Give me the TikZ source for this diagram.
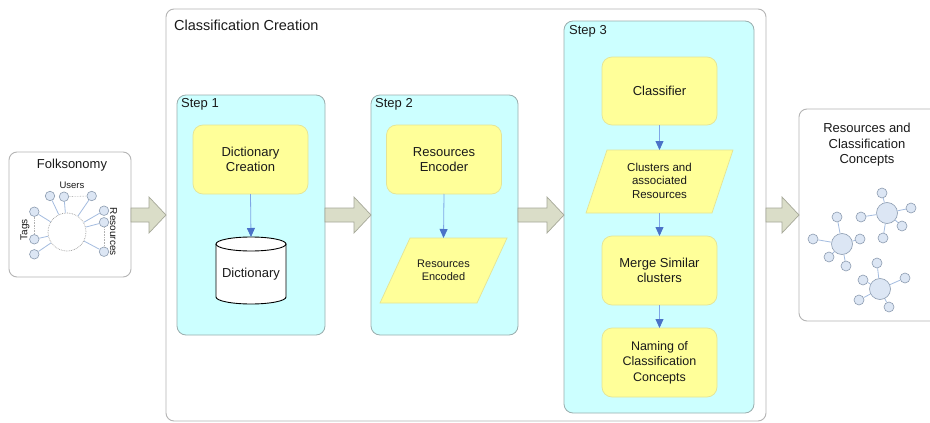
\documentclass[tikz,border=0pt]{standalone}
\usepackage{fontspec}
\setmainfont{Liberation Sans}
\usetikzlibrary{arrows.meta,calc}

\definecolor{boxgray}{HTML}{B4B4B4}
\definecolor{stepfill}{HTML}{CCFFFF}
\definecolor{stepline}{HTML}{9AAEAE}
\definecolor{procfill}{HTML}{FFFF99}
\definecolor{procline}{HTML}{E4E496}
\definecolor{bigfill}{HTML}{DADDC8}
\definecolor{bigline}{HTML}{A6A898}
\definecolor{flowline}{HTML}{7FA6E6}
\definecolor{flowhead}{HTML}{4A72C8}
\definecolor{dotfill}{HTML}{DCE6F4}
\definecolor{dotline}{HTML}{8C9CB0}
\definecolor{linkblue}{HTML}{A4BCE0}
\definecolor{txt}{HTML}{1A1A1A}

% block arrow between two boxes, centred on y = 215
\newcommand\blockarrow[2]{%
  \draw[bigarrow] (#1.east |- 0,208) -- ($(#2.west |- 0,208)+(-17,0)$)
    -- ($(#2.west |- 0,197)+(-17,0)$) -- (#2.west |- 0,215)
    -- ($(#2.west |- 0,233)+(-17,0)$) -- ($(#2.west |- 0,222)+(-17,0)$)
    -- (#1.east |- 0,222) -- cycle;}

\begin{document}
\begin{tikzpicture}[x=1pt,y=-1pt,
  every node/.style={text=txt},
  font=\fontsize{13}{15.5}\selectfont,
  outerbox/.style={draw=boxgray, fill=white, rounded corners=8pt, line width=0.9pt, outer sep=0pt, inner sep=0pt},
  stepbox/.style={draw=stepline, fill=stepfill, rounded corners=9pt, line width=0.8pt, outer sep=0pt, inner sep=0pt},
  steplabel/.style={anchor=west, inner sep=0pt},
  procbox/.style={draw=procline, fill=procfill, rounded corners=10pt, line width=0.7pt, outer sep=0pt,
    align=center, minimum width=115pt, minimum height=69pt, inner sep=2pt},
  paraframe/.style={draw=procline, fill=procfill, line width=0.7pt},
  ghost/.style={inner sep=0pt, outer sep=0pt, align=center},
  flow/.style={draw=flowline, line width=0.8pt, -{Triangle[width=8pt,length=9pt,color=flowhead]}},
  bigarrow/.style={draw=bigline, fill=bigfill, line width=0.7pt, line join=miter},
  dot/.style={circle, draw=dotline, fill=dotfill, line width=0.6pt, minimum size=9.5pt, inner sep=0pt},
  hubdot/.style={circle, draw=dotline, fill=dotfill, line width=0.6pt, minimum size=21pt, inner sep=0pt},
  satdot/.style={circle, draw=dotline, fill=dotfill, line width=0.6pt, minimum size=10pt, inner sep=0pt},
  link/.style={draw=linkblue, line width=0.8pt},
  gap/.style={draw=gray!60, densely dotted, line width=0.6pt},
  small/.style={font=\fontsize{10}{12}\selectfont, inner sep=0pt}]

\clip (0,0) rectangle (930,423);
\fill[white] (0,0) rectangle (930,423);

% ---- outer boxes ----
\node[outerbox, minimum width=122pt, minimum height=125pt] (folk) at (70,214.5) {};
\node[outerbox, minimum width=600pt, minimum height=412pt] (main) at (466,215) {};
\node[outerbox, minimum width=146pt, minimum height=212pt] (res) at (872,215) {};

\node[anchor=west, inner sep=0pt, font=\fontsize{14.5}{17}\selectfont] (cctitle) at (174,25) {Classification Creation};
\node[inner sep=0pt] (folktitle) at (72,165) {Folksonomy};
\node[inner sep=0pt, align=center] (restitle) at (867,145) {Resources and\\Classification\\Concepts};

% ---- step containers ----
\node[stepbox, minimum width=148pt, minimum height=240pt] (step1) at (251,215) {};
\node[stepbox, minimum width=147pt, minimum height=240pt] (step2) at (444.5,215) {};
\node[stepbox, minimum width=190pt, minimum height=392pt] (step3) at (659,217) {};
\node[steplabel] (s1lab) at (181,104) {Step 1};
\node[steplabel] (s2lab) at (375,104) {Step 2};
\node[steplabel] (s3lab) at (569,31) {Step 3};

% ---- step 1 ----
\node[procbox] (dictc) at (250.5,159.5) {Dictionary\\Creation};
\node[ghost, minimum width=70pt, minimum height=67pt] (dict) at (251,270.5) {};
\draw[fill=white, line width=0.9pt]
  ($(dict.north west)+(0,7)$) -- ($(dict.south west)+(0,-7)$)
  arc[start angle=180, end angle=0, x radius=35, y radius=7]
  -- ($(dict.north east)+(0,7)$);
\draw[fill=white, line width=0.9pt] ($(dict.north)+(0,7)$) ellipse[x radius=35, y radius=7];
\node[inner sep=0pt] (dictlab) at (251,274) {Dictionary};
\draw[flow] (dictc.south) -- (dict.north);

% ---- step 2 ----
\node[procbox] (encoder) at (444,159.5) {Resources\\Encoder};
\node[ghost, minimum width=127pt, minimum height=65pt] (encoded) at (443.5,270.5) {};
\draw[paraframe] ($(encoded.north west)+(30,0)$) -- (encoded.north east)
  -- ($(encoded.south east)+(-30,0)$) -- (encoded.south west) -- cycle;
\node[ghost, font=\fontsize{11}{13}\selectfont] (encodedlab) at (443.5,270) {Resources\\Encoded};
\draw[flow] (encoder.south) -- (encoded.north);

% ---- step 3 ----
\node[procbox, minimum height=68pt] (classifier) at (659.5,91) {Classifier};
\node[ghost, minimum width=147pt, minimum height=63pt] (clusters) at (659.5,181.5) {};
\draw[paraframe] ($(clusters.north west)+(21,0)$) -- (clusters.north east)
  -- ($(clusters.south east)+(-21,0)$) -- (clusters.south west) -- cycle;
\node[ghost, font=\fontsize{11.5}{13.5}\selectfont] (clusterslab) at (659.5,180.5) {Clusters and\\associated\\Resources};
\node[procbox] (merge) at (659.5,270.5) {Merge Similar\\clusters};
\node[procbox, font=\fontsize{12.5}{15.5}\selectfont] (naming) at (659.5,362.5) {Naming of\\Classification\\Concepts};
\draw[flow] (classifier.south) -- (clusters.north);
\draw[flow] (clusters.south) -- (merge.north);
\draw[flow] (merge.south) -- (naming.north);

% ---- block arrows ----
\blockarrow{folk}{main}
\blockarrow{step1}{step2}
\blockarrow{step2}{step3}
\blockarrow{main}{res}

% ---- folksonomy graph ----
\node[circle, draw=gray!80, densely dotted, fill=white, line width=0.7pt, minimum size=38pt, inner sep=0pt] (hub) at (67,232) {};
\node[dot] (u1) at (50,196) {};
\node[dot] (u2) at (64,196.7) {};
\node[dot] (u3) at (91.7,196) {};
\node[dot] (t1) at (34.3,211.7) {};
\node[dot] (t2) at (34.3,239.3) {};
\node[dot] (t3) at (34.3,254.3) {};
\node[dot] (r1) at (104,210.7) {};
\node[dot] (r2) at (104,222.3) {};
\node[dot] (r3) at (104,251.7) {};
\foreach \n in {u1,u2,u3,t1,t2,t3,r1,r2,r3} \draw[link] (hub) -- (\n);
\draw[gap] (u2) -- (u3);
\draw[gap] (t1) -- (t2);
\draw[gap] (r2) -- (r3);
\node[small, font=\fontsize{9.5}{11}\selectfont] (userslab) at (72,185) {Users};
\node[small, rotate=90] (tagslab) at (25,230) {Tags};
\node[small, rotate=-90] (reslab) at (113.5,231.7) {Resources};

% ---- concept clusters ----
\node[hubdot] (ca) at (842,244) {};
\node[hubdot] (cb) at (887,213) {};
\node[hubdot] (cc) at (880,289) {};
\foreach \n/\p in {a1/{837,217}, a2/{813,239}, a3/{860,239}, a4/{829,257}, a5/{846,266}}
  \node[satdot] (\n) at (\p) {};
\foreach \n/\p in {b1/{882,193}, b2/{861,217}, b3/{911,208}, b4/{902,226}, b5/{883,238}}
  \node[satdot] (\n) at (\p) {};
\foreach \n/\p in {c1/{877,263}, c2/{863,280}, c3/{905,278}, c4/{859,300}, c5/{889,307}}
  \node[satdot] (\n) at (\p) {};
\foreach \n in {a1,a2,a3,a4,a5} \draw[link] (ca) -- (\n);
\foreach \n in {b1,b2,b3,b4,b5} \draw[link] (cb) -- (\n);
\foreach \n in {c1,c2,c3,c4,c5} \draw[link] (cc) -- (\n);
\end{tikzpicture}
\end{document}
